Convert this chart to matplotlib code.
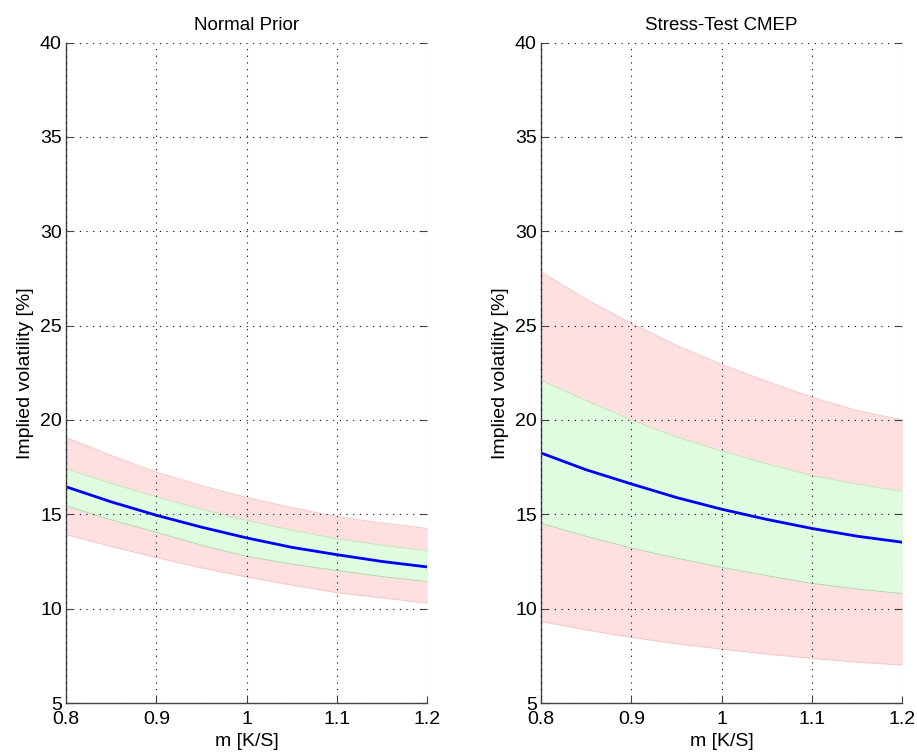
import matplotlib
matplotlib.use('Agg')
import matplotlib.pyplot as plt
import numpy as np

# moneyness grid
m = [0.80, 0.85, 0.90, 0.95, 1.00, 1.05, 1.10, 1.15, 1.20]

# Normal Prior
prior_mid = [16.46, 15.66, 14.95, 14.32, 13.75, 13.25, 12.86, 12.50, 12.21]
prior_red_hi = [19.07, 18.12, 17.23, 16.52, 15.89, 15.36, 14.87, 14.54, 14.25]
prior_green_hi = [17.41, 16.64, 15.93, 15.27, 14.68, 14.16, 13.71, 13.36, 13.07]
prior_green_lo = [15.45, 14.71, 14.05, 13.36, 12.77, 12.36, 12.02, 11.70, 11.43]
prior_red_lo = [13.93, 13.30, 12.71, 12.16, 11.68, 11.25, 10.85, 10.57, 10.30]

# Stress-Test CMEP
cmep_mid = [18.25, 17.36, 16.61, 15.89, 15.27, 14.73, 14.25, 13.84, 13.52]
cmep_red_hi = [27.85, 26.40, 25.12, 23.95, 22.94, 22.05, 21.20, 20.50, 20.00]
cmep_green_hi = [22.10, 21.03, 20.00, 19.10, 18.36, 17.68, 17.05, 16.61, 16.21]
cmep_green_lo = [14.52, 13.84, 13.21, 12.68, 12.19, 11.75, 11.34, 11.04, 10.80]
cmep_red_lo = [9.32, 8.87, 8.48, 8.14, 7.86, 7.59, 7.37, 7.16, 7.02]

titles = ['Normal Prior', 'Stress-Test CMEP']
x_ticks = [0.8, 0.9, 1.0, 1.1, 1.2]
x_labels = ['0.8', '0.9', '1', '1.1', '1.2']
y_ticks = [5, 10, 15, 20, 25, 30, 35, 40]

plt.rcParams['font.family'] = ['Liberation Sans', 'DejaVu Sans']

fig = plt.figure(figsize=(9.17, 7.53), dpi=100)
panels = [
    (prior_mid, prior_red_hi, prior_green_hi, prior_green_lo, prior_red_lo),
    (cmep_mid, cmep_red_hi, cmep_green_hi, cmep_green_lo, cmep_red_lo),
]
lefts = [0.072, 0.590]

for left, title, (mid, rhi, ghi, glo, rlo) in zip(lefts, titles, panels):
    ax = fig.add_axes([left, 0.0664, 0.394, 0.877])
    ax.fill_between(m, rlo, rhi, color='#ffe0e0', lw=0)
    ax.fill_between(m, glo, ghi, color='#e0fce0', lw=0)
    for edge, c in [(rhi, '#f5c8c8'), (rlo, '#f5c8c8'), (ghi, '#c8e6b4'), (glo, '#b4d8a8')]:
        ax.plot(m, edge, color=c, lw=0.7)
    ax.plot(m, mid, color='#0000ff', lw=2)

    ax.set_xlim(0.8, 1.2)
    ax.set_ylim(5, 40)
    ax.set_xticks(x_ticks)
    ax.set_xticklabels(x_labels)
    ax.set_yticks(y_ticks)
    ax.grid(True, color='black', linestyle=(0, (1, 5)), linewidth=0.8)
    ax.set_axisbelow(False)
    for s in ['top', 'right']:
        ax.spines[s].set_visible(False)
    for s in ['left', 'bottom']:
        ax.spines[s].set_color('#444444')
        ax.spines[s].set_linewidth(1.0)
    ax.tick_params(direction='in', length=5, labelsize=14, right=True, color='#444444')
    ax.tick_params(axis='y', pad=3)
    ax.tick_params(axis='x', pad=6)
    ax.set_title(title, fontsize=13.5, pad=9)
    ax.set_xlabel('m [K/S]', fontsize=14, labelpad=3)
    ax.set_ylabel('Implied volatility [%]', fontsize=14, labelpad=4)

fig.savefig('out.png', dpi=100)
